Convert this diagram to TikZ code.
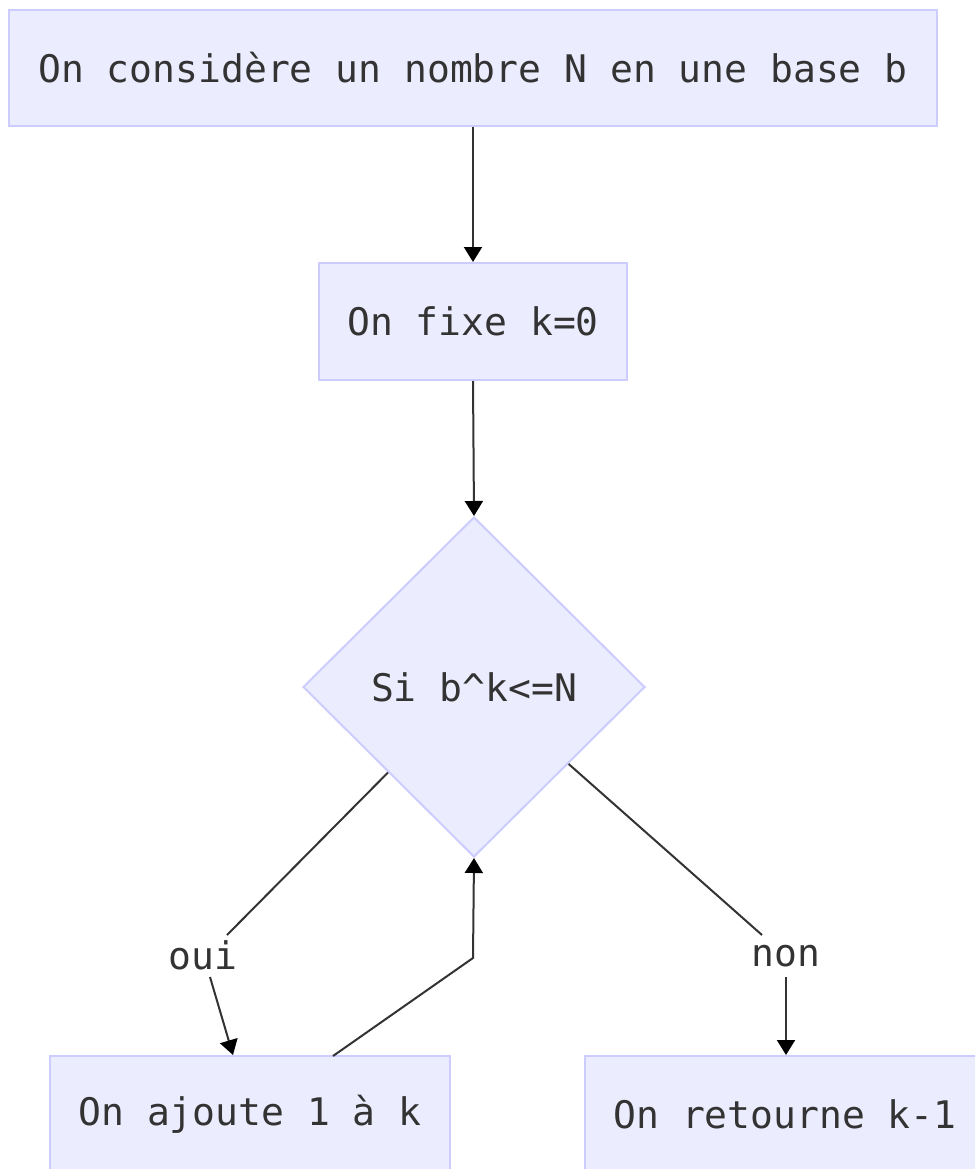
\documentclass[tikz,border=0pt]{standalone}
\usepackage{fontspec}
\setmainfont{DejaVu Sans Mono}
\usetikzlibrary{shapes.geometric,arrows.meta,calc}
\definecolor{nodefill}{HTML}{ECECFF}
\definecolor{nodeline}{HTML}{CCCCFF}
\definecolor{txt}{HTML}{333333}
\definecolor{edgecol}{HTML}{333333}
\tikzset{
  box/.style={draw=nodeline, fill=nodefill, line width=2pt, rectangle, inner sep=0pt, text=txt, font=\fontsize{38}{46}\selectfont},
  decision/.style={draw=nodeline, fill=nodefill, line width=2pt, diamond, aspect=1, inner sep=0pt, text=txt, font=\fontsize{38}{46}\selectfont},
  lbl/.style={text=txt, inner sep=0pt, font=\fontsize{38}{46}\selectfont},
  edge/.style={draw=edgecol, line width=2pt},
  arr/.style={edge, -{Triangle[length=15pt,width=18pt,color=black]}}
}
\begin{document}
\begin{tikzpicture}[x=1pt,y=-1pt]
\useasboundingbox (0,0) rectangle (975,1169);
\clip (0,0) rectangle (975,1169);
\node[box, minimum width=928pt, minimum height=116pt] (A) at (473,68) {On considère un nombre N en une base b};
\node[box, minimum width=308pt, minimum height=117pt] (B) at (473,321.5) {On fixe k=0};
\node[decision, minimum width=342pt, minimum height=340pt] (C) at (474,687) {Si b\textasciicircum k<=N};
\node[box, minimum width=400pt, minimum height=116pt] (D) at (250,1114) {On ajoute 1 à k};
\node[box, minimum width=400pt, minimum height=116pt] (E) at (785,1114) {On retourne k-1};
\node[lbl] (oui) at (203,955) {oui};
\node[lbl] (non) at (786,956) {non};
\coordinate (ouiIn) at (227,935);
\coordinate (ouiOut) at (210,977);
\coordinate (nonIn) at (762,935);
\coordinate (nonOut) at (786,977);
\coordinate (loopBend) at (473,958);
\coordinate (Dtop) at (333,1056);
\draw[arr] (A.south) -- (B.north);
\draw[arr] (B.south) -- (C.north);
\draw[edge] ($(C.west)!0.5!(C.south)$) -- (ouiIn);
\draw[arr] (ouiOut) -- (233,1055);
\draw[arr] (Dtop) -- (loopBend) -- (C.south);
\draw[edge] ($(C.east)!0.45!(C.south)$) -- (nonIn);
\draw[arr] (nonOut) -- (nonOut |- E.north);
\end{tikzpicture}
\end{document}
